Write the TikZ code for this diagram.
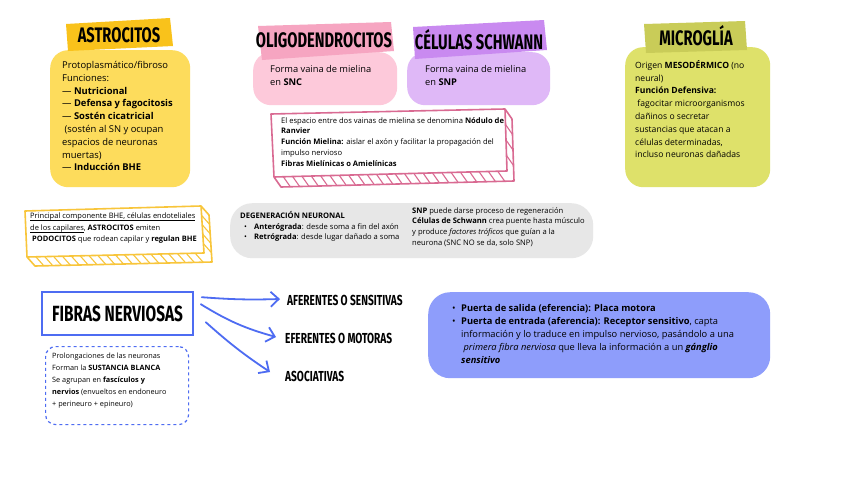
\documentclass[tikz,border=0pt]{standalone}
\usepackage{fontspec}
\setmainfont{Open Sans}
\newfontfamily\headfont[FakeStretch=0.7]{Fira Sans}
\usetikzlibrary{arrows.meta,positioning,calc}
\definecolor{astroBand}{HTML}{F9C21B}
\definecolor{astroFill}{HTML}{FDDC5C}
\definecolor{oligoBand}{HTML}{F6A5C1}
\definecolor{oligoFill}{HTML}{FDC9DA}
\definecolor{schwBand}{HTML}{C98AF0}
\definecolor{schwFill}{HTML}{DFB8F7}
\definecolor{microBand}{HTML}{C9CC58}
\definecolor{microFill}{HTML}{DEE16A}
\definecolor{ranvLine}{HTML}{D96A92}
\definecolor{bheLine}{HTML}{F8C53A}
\definecolor{degFill}{HTML}{E7E7E7}
\definecolor{fiberBlue}{HTML}{4E6CF2}
\definecolor{gateFill}{HTML}{8E9DFB}
\newcommand{\ul}[1]{\setbox0\hbox{#1}\rlap{\rule[-1.8pt]{\wd0}{0.55pt}}\box0}

\begin{document}
\begin{tikzpicture}[x=1pt,y=-1pt,
  card/.style={rounded corners=18pt, inner sep=0pt, anchor=north west},
  body/.style={anchor=north west, align=left, inner sep=0pt, font=\fontsize{8.6}{12.8}\selectfont},
  small/.style={anchor=north west, align=left, inner sep=0pt, font=\fontsize{7.6}{10.8}\selectfont},
  head/.style={inner sep=0pt, font=\headfont\bfseries\fontsize{21}{21}\selectfont},
  fiberlabel/.style={anchor=west, inner sep=0pt, font=\headfont\bfseries\fontsize{14.5}{14.5}\selectfont},
  arr/.style={draw=fiberBlue, line width=1.8pt, line cap=round, -{Straight Barb[length=8pt,width=15pt]}}]
\fill[white] (0,0) rectangle (848,477);
\useasboundingbox (0,0) rectangle (848,477);

% cards with their bands
\node[card, fill=astroFill, minimum width=140pt, minimum height=137pt] (astro) at (50,50) {};
\fill[astroBand] (66,24) -- (170,18) -- (173,46) -- (68,51) -- cycle;
\node[head] (astrohead) at (119,35) {ASTROCITOS};
\node[body, font=\fontsize{9.4}{12.8}\selectfont] (astrotxt) at (62,61) {Protoplasmático/fibroso\\
Funciones:\\
--- \textbf{Nutricional}\\
--- \textbf{Defensa y fagocitosis}\\
--- \textbf{Sostén cicatricial}\\
\ (sostén al SN y ocupan\\
espacios de neuronas\\
muertas)\\
--- \textbf{Inducción BHE}};

\node[card, fill=oligoFill, minimum width=144pt, minimum height=53pt] (oligo) at (253,52) {};
\fill[oligoBand] (258,26) -- (391,22) -- (394,51) -- (262,60) -- cycle;
\node[head] (oligohead) at (324,40) {OLIGODENDROCITOS};
\node[body, font=\fontsize{9.3}{12.8}\selectfont] (oligotxt) at (270,65) {Forma vaina de mielina\\en \textbf{SNC}};

\node[card, fill=schwFill, minimum width=143pt, minimum height=53pt] (schw) at (407,52) {};
\fill[schwBand] (413,27) -- (544,20) -- (547,50) -- (415,59) -- cycle;
\node[head] (schwhead) at (479,40) {CÉLULAS SCHWANN};
\node[body, font=\fontsize{9.3}{12.8}\selectfont] (schwtxt) at (425,65) {Forma vaina de mielina\\en \textbf{SNP}};

\node[card, fill=microFill, minimum width=145pt, minimum height=140pt] (micro) at (625,47) {};
\fill[microBand] (644,24) -- (745,21) -- (747,50) -- (646,53) -- cycle;
\node[head] (microhead) at (696,36) {MICROGLÍA};
\node[body] (microtxt) at (635,60) {Origen \textbf{MESODÉRMICO} (no\\
neural)\\
\textbf{Función Defensiva:}\\
\ fagocitar microorganismos\\
dañinos o secretar\\
sustancias que atacan a\\
células determinadas,\\
incluso neuronas dañadas};

% boxes with depth
\coordinate (rA) at (271,114); \coordinate (rB) at (505,109);
\coordinate (rC) at (507,171); \coordinate (rD) at (274,177);
\draw[ranvLine, line width=1.6pt, line join=round]
  (rA) -- (rB) -- (rC) -- (rD) -- cycle
  (rD) -- ++(7,10) -- ($(rC)+(7,10)$) -- ($(rB)+(7,10)$) -- (rB);
\foreach \t in {0.04,0.08,...,0.97}
  \draw[ranvLine, line width=1.1pt] ($(rD)!\t!(rC)$) -- ($(rD)!\t!(rC)+(7,10)$);
\foreach \t in {0.25,0.5,0.75}
  \draw[ranvLine, line width=1.1pt] ($(rB)!\t!(rC)$) -- ($(rB)!\t!(rC)+(7,10)$);
\node[small] (ranvtxt) at (281,117) {El espacio entre dos vainas de mielina se denomina \textbf{Nódulo de}\\
\textbf{Ranvier}\\
\textbf{Función Mielina:} aislar el axón y facilitar la propagación del\\
impulso nervioso\\
\textbf{Fibras Mielínicas o Amielínicas}};

\coordinate (bA) at (25,211); \coordinate (bB) at (201,206);
\coordinate (bC) at (204,253); \coordinate (bD) at (27,257);
\draw[bheLine, line width=1.6pt, line join=round]
  (bA) -- (bB) -- (bC) -- (bD) -- cycle
  (bD) -- ++(8,9) -- ($(bC)+(8,9)$) -- ($(bB)+(8,9)$) -- (bB);
\foreach \t in {0.05,0.1,...,0.97}
  \draw[bheLine, line width=1.1pt] ($(bD)!\t!(bC)$) -- ($(bD)!\t!(bC)+(8,9)$);
\foreach \t in {0.2,0.4,0.6,0.8}
  \draw[bheLine, line width=1.1pt] ($(bB)!\t!(bC)$) -- ($(bB)!\t!(bC)+(8,9)$);
\node[small, font=\fontsize{7.5}{11.5}\selectfont] (bhetxt) at (30,213) {\ul{Principal componente BHE, células endoteliales}\\
\ul{de los capilares}, \textbf{ASTROCITOS} emiten\\
\hspace*{2pt}\textbf{PODOCITOS} que rodean capilar y \textbf{regulan BHE}};

% degeneracion
\node[card, rounded corners=22pt, fill=degFill, minimum width=363pt, minimum height=55pt] (deg) at (230,203) {};
\node[small] (degleft) at (240,211) {\textbf{DEGENERACIÓN NEURONAL}\\
\hspace*{4pt}\makebox[10pt][l]{\textbullet}\textbf{Anterógrada}: desde soma a fin del axón\\
\hspace*{4pt}\makebox[10pt][l]{\textbullet}\textbf{Retrógrada}: desde lugar dañado a soma};
\node[small] (degright) at (412,207) {\textbf{SNP} puede darse proceso de regeneración\\
\textbf{Células de Schwann} crea puente hasta músculo\\
y produce \textit{factores tróficos} que guían a la\\
neurona (SNC NO se da, solo SNP)};

% fibras nerviosas
\node[draw=fiberBlue, line width=1.6pt, minimum width=151pt, minimum height=43pt, inner sep=0pt,
  font=\headfont\bfseries\fontsize{22}{22}\selectfont] (fib) at (117.5,313.5) {FIBRAS NERVIOSAS};
\node[card, rounded corners=10pt, draw=fiberBlue, line width=1.2pt, dashed, minimum width=143pt, minimum height=78pt] (fibnote) at (45,346) {};
\node[small, font=\fontsize{7.3}{12}\selectfont] (fibtxt) at (52,353) {Prolongaciones de las neuronas\\
Forman la \textbf{SUSTANCIA BLANCA}\\
Se agrupan en \textbf{fascículos y}\\
\textbf{nervios} (envueltos en endoneuro\\
+ perineuro + epineuro)};

\node[fiberlabel] (afer) at (287,300) {AFERENTES O SENSITIVAS};
\node[fiberlabel] (efer) at (285,338) {EFERENTES O MOTORAS};
\node[fiberlabel] (asoc) at (285,376) {ASOCIATIVAS};
\draw[arr] ($(fib.north east)+(8,6)$) to[bend right=3] ($(afer.west)+(-7,-1)$);
\draw[arr] ($(fib.north east)+(7,13)$) to[bend right=8] ($(efer.west)+(-9,-1)$);
\draw[arr] ($(fib.north east)+(12,31)$) to[bend right=4] ($(asoc.west)+(-15,-4)$);

% puertas
\node[card, rounded corners=22pt, fill=gateFill, minimum width=342pt, minimum height=86pt] (gate) at (428,292) {};
\node[body, font=\fontsize{9.3}{13}\selectfont] (gatetxt) at (452,304) {\makebox[9pt][l]{\textbullet}\textbf{Puerta de salida (eferencia): Placa motora}\\
\makebox[9pt][l]{\textbullet}\textbf{Puerta de entrada (aferencia): Receptor sensitivo}, capta\\
\hspace*{9pt}información y lo traduce en impulso nervioso, pasándolo a una\\
\hspace*{9pt}\ \textit{primera fibra nerviosa} que lleva la información a un \textbf{\textit{gánglio}}\\
\hspace*{9pt}\textbf{\textit{sensitivo}}};
\end{tikzpicture}
\end{document}
